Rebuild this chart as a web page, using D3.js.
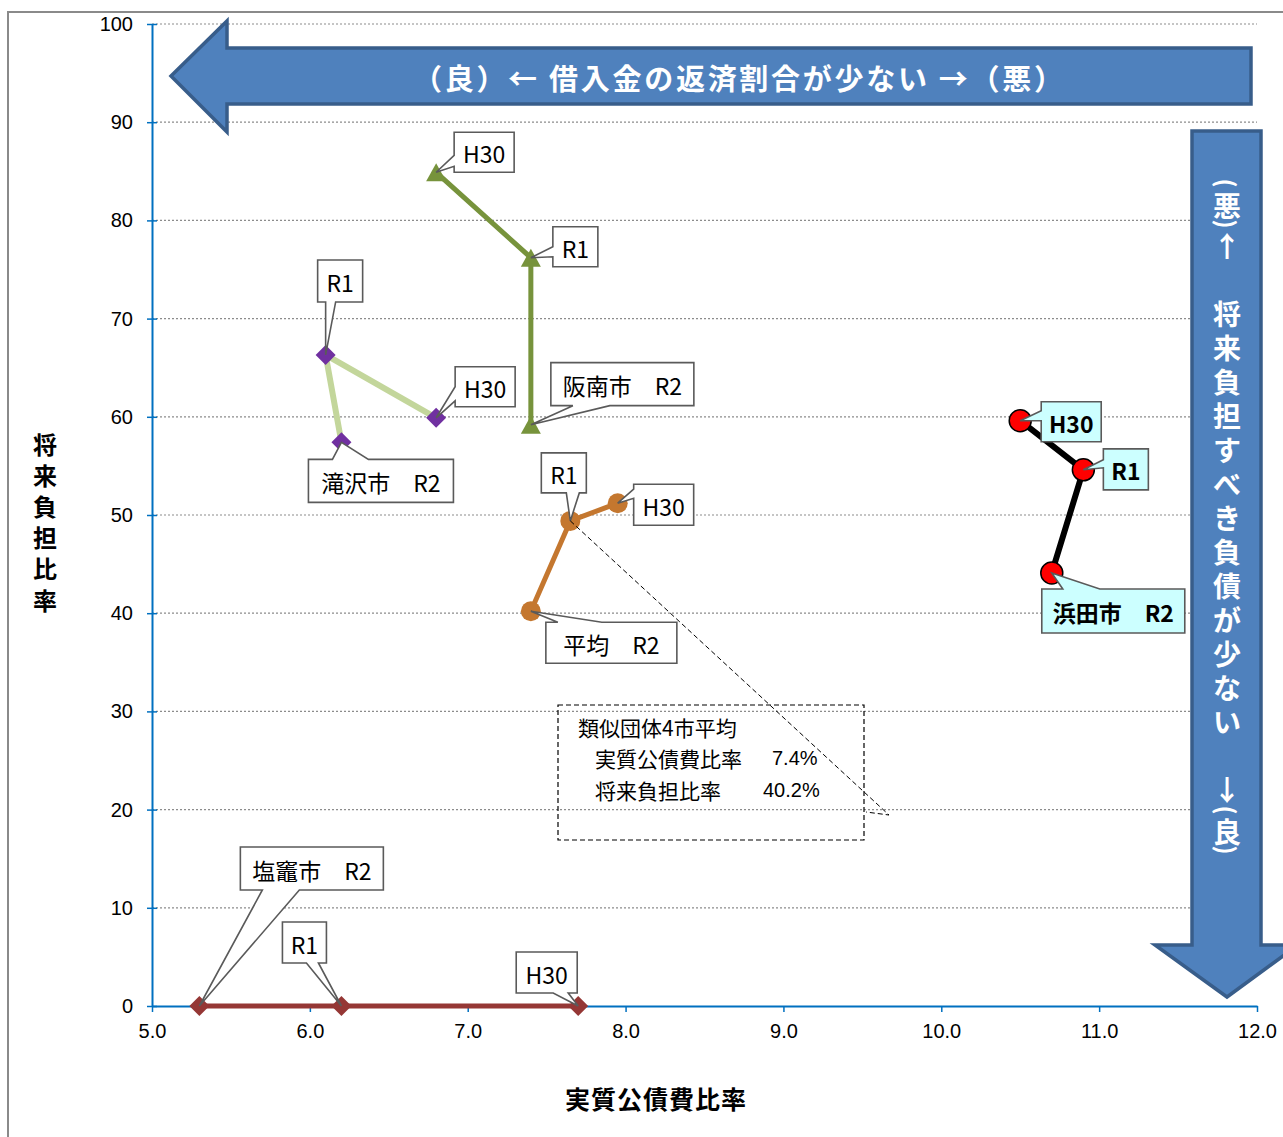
<!DOCTYPE html>
<html>
<head>
<meta charset="utf-8">
<script src="https://cdn.jsdelivr.net/npm/d3@7"></script>
<style>
  body { margin: 0; background: #fff; }
  svg { display: block; }
  text { white-space: pre; }
</style>
</head>
<body>
<script>
// ---- data -------------------------------------------------------------
const years = ["H30", "R1", "R2"];
const cities = ["浜田市", "阪南市", "滝沢市", "平均", "塩竈市"];

// 実質公債費比率 (x) / 将来負担比率 (y), ordered H30, R1, R2
const hamadaX   = [10.5, 10.9, 10.7];
const hamadaY   = [59.6, 54.6, 44.1];
const hannanX   = [6.8, 7.4, 7.4];
const hannanY   = [84.9, 76.2, 59.2];
const takizawaX = [6.8, 6.1, 6.2];
const takizawaY = [59.9, 66.3, 57.4];
const averageX  = [7.95, 7.65, 7.4];
const averageY  = [51.2, 49.4, 40.2];
const shiogamaX = [7.7, 6.2, 5.3];
const shiogamaY = [0, 0, 0];

const xTicks = [5, 6, 7, 8, 9, 10, 11, 12];
const yTicks = [0, 10, 20, 30, 40, 50, 60, 70, 80, 90, 100];

const avgSummary = ["類似団体4市平均", "実質公債費比率", "7.4%", "将来負担比率", "40.2%"];

// ---- styles -----------------------------------------------------------
const seriesStyle = [
  { line: "#000000", width: 6, marker: "circle",   fill: "#FF0000", stroke: "#000", r: 11, bold: true,  box: "#CCFFFF" },
  { line: "#77933C", width: 5, marker: "triangle", fill: "#77933C", stroke: "none", r: 10, bold: false, box: "#FFFFFF" },
  { line: "#C3D69B", width: 6, marker: "diamond",  fill: "#7030A0", stroke: "none", r: 10, bold: false, box: "#FFFFFF" },
  { line: "#C4772F", width: 5, marker: "circle",   fill: "#C4772F", stroke: "none", r: 10, bold: false, box: "#FFFFFF" },
  { line: "#953735", width: 5, marker: "diamond",  fill: "#953735", stroke: "none", r: 10, bold: false, box: "#FFFFFF" }
];

// label boxes, placed relative to their point: [series, year, dx, dy, w, h, side, a, b]
const labelLayout = [
  [1, 0,  18, -40,  60, 40, "left",   23, 34],
  [1, 1,  22, -31,  45, 40, "left",   20, 30],
  [1, 2,  20, -62, 143, 43, "bottom", 22, 59],
  [2, 1,  -8, -95,  45, 42, "bottom",  8, 18],
  [2, 0,  19, -51,  60, 40, "left",   20, 34],
  [2, 2, -33,  17, 145, 43, "top",    24, 60],
  [3, 1, -29, -68,  45, 40, "bottom", 25, 38],
  [3, 0,  16, -19,  60, 41, "left",    5, 14],
  [3, 2,  15,  11, 131, 41, "top",    12, 56],
  [0, 0,  21, -19,  60, 40, "left",    9, 19],
  [0, 1,  20, -21,  45, 41, "left",   11, 19],
  [0, 2, -10,  16, 143, 44, "top",    21, 58],
  [4, 2,  41, -159, 143, 43, "bottom", 22, 59],
  [4, 1, -59, -84,  44, 41, "bottom", 24, 36],
  [4, 0, -62, -54,  61, 41, "bottom", 37, 52]
];

const seriesX = [hamadaX, hannanX, takizawaX, averageX, shiogamaX];
const seriesY = [hamadaY, hannanY, takizawaY, averageY, shiogamaY];
const series = cities.map((c, i) => ({
  name: c,
  style: seriesStyle[i],
  pts: years.map((yr, j) => ({ year: yr, x: seriesX[i][j], y: seriesY[i][j] }))
}));

// ---- canvas -----------------------------------------------------------
const W = 1283, H = 1137;
const svg = d3.select("body").append("svg").attr("width", W).attr("height", H);
const jp = "'Noto Sans CJK JP', 'Noto Sans', sans-serif";

const x = d3.scaleLinear().domain([5, 12]).range([152, 1257]);
const y = d3.scaleLinear().domain([0, 100]).range([1006, 24]);

// outer frame
svg.append("path")
  .attr("d", `M8,${H} L8,12 L${W},12`)
  .attr("fill", "none").attr("stroke", "#8a8a8a").attr("stroke-width", 2);

// horizontal gridlines
svg.append("g").selectAll("line").data(yTicks.filter(t => t > 0)).join("line")
  .attr("x1", x(5)).attr("x2", x(12))
  .attr("y1", d => y(d)).attr("y2", d => y(d))
  .attr("stroke", "#8c8c8c").attr("stroke-width", 1.2).attr("stroke-dasharray", "2,2");

// axes
const axisColor = "#0070C0";
const gy = svg.append("g").attr("transform", `translate(${x(5)},0)`)
  .call(d3.axisLeft(y).tickValues(yTicks).tickFormat(d3.format("d")).tickSizeInner(5).tickSizeOuter(0).tickPadding(14));
gy.selectAll(".tick line").attr("x2", 5).attr("x1", -5);
const gx = svg.append("g").attr("transform", `translate(0,${y(0)})`)
  .call(d3.axisBottom(x).tickValues(xTicks).tickFormat(d3.format(".1f")).tickSizeInner(6).tickSizeOuter(0).tickPadding(12));
[gx, gy].forEach(g => {
  g.select(".domain").attr("stroke", axisColor).attr("stroke-width", 2);
  g.selectAll(".tick line").attr("stroke", axisColor).attr("stroke-width", 1.5);
  g.selectAll(".tick text").attr("fill", "#000").attr("font-size", 20)
    .attr("font-family", "'Liberation Sans', Arial, sans-serif");
});

// axis titles
svg.append("text").text("実質公債費比率")
  .attr("x", 656).attr("y", 1098).attr("text-anchor", "middle").attr("dominant-baseline", "central")
  .attr("font-family", jp).attr("font-weight", 700).attr("font-size", 25).attr("letter-spacing", 1);
const yTitle = "将来負担比率".split("");
svg.append("g").selectAll("text").data(yTitle).join("text")
  .text(d => d)
  .attr("x", 45).attr("y", (d, i) => 443 + i * 31.2)
  .attr("text-anchor", "middle").attr("dominant-baseline", "central")
  .attr("font-family", jp).attr("font-weight", 700).attr("font-size", 24);

// ---- block arrows -----------------------------------------------------
const arrowFill = "#4F81BD", arrowEdge = "#385D8A";
// pointing left along the top
svg.append("path")
  .attr("d", "M171,76 L227,21 L227,48 L1251,48 L1251,104 L227,104 L227,132 Z")
  .attr("fill", arrowFill).attr("stroke", arrowEdge).attr("stroke-width", 3.5).attr("stroke-linejoin", "miter");
svg.append("text").text("（良）← 借入金の返済割合が少ない →（悪）")
  .attr("x", 738).attr("y", 77).attr("text-anchor", "middle").attr("dominant-baseline", "central")
  .attr("textLength", 650).attr("lengthAdjust", "spacing")
  .attr("font-family", jp).attr("font-weight", 700).attr("font-size", 29).attr("fill", "#fff");

// pointing down along the right, with its text set vertically
svg.append("path")
  .attr("d", "M1192,131 L1261,131 L1261,945 L1298,945 L1227,997 L1155,945 L1192,945 Z")
  .attr("fill", arrowFill).attr("stroke", arrowEdge).attr("stroke-width", 3.5).attr("stroke-linejoin", "miter");
const vChars = [
  ["(", 183, true], ["悪", 205], [")", 224, true], ["↑", 245]
];
"将来負担すべき負債が少ない".split("").forEach((c, i) => vChars.push([c, 313 + i * 34]));
vChars.push(["↓", 789], ["(", 810, true], ["良", 831], [")", 850, true]);
const vx = 1227;
svg.append("g").selectAll("text").data(vChars).join("text")
  .text(d => d[0])
  .attr("x", vx).attr("y", d => d[1])
  .attr("transform", d => d[2] ? `rotate(90,${vx},${d[1]})` : null)
  .attr("text-anchor", "middle").attr("dominant-baseline", "central")
  .attr("font-family", jp).attr("font-weight", 700)
  .attr("font-size", d => d[2] ? 24 : 28).attr("fill", "#fff");

// ---- series -----------------------------------------------------------
const line = d3.line().x(d => x(d.x)).y(d => y(d.y));
const gS = svg.append("g");
series.forEach(s => {
  gS.append("path").datum(s.pts).attr("d", line)
    .attr("fill", "none").attr("stroke", s.style.line).attr("stroke-width", s.style.width)
    .attr("stroke-linejoin", "round");
});
function markerPath(type, r) {
  if (type === "diamond") return `M0,${-r} L${r},0 L0,${r} L${-r},0 Z`;
  if (type === "triangle") return `M0,${-r * 0.9} L${r},${r * 0.9} L${-r},${r * 0.9} Z`;
  return null;
}
series.forEach(s => {
  const st = s.style;
  const g = gS.append("g");
  if (st.marker === "circle") {
    g.selectAll("circle").data(s.pts).join("circle")
      .attr("cx", d => x(d.x)).attr("cy", d => y(d.y)).attr("r", st.r)
      .attr("fill", st.fill).attr("stroke", st.stroke).attr("stroke-width", 1.5);
  } else {
    g.selectAll("path").data(s.pts).join("path")
      .attr("d", markerPath(st.marker, st.r))
      .attr("transform", d => `translate(${x(d.x)},${y(d.y)})`)
      .attr("fill", st.fill);
  }
});

// ---- callout labels ---------------------------------------------------
function calloutPath(x0, y0, w, h, side, a, b, tx, ty) {
  const x1 = x0 + w, y1 = y0 + h;
  let p = `M${x0},${y0}`;
  if (side === "top") p += ` L${x0 + a},${y0} L${tx},${ty} L${x0 + b},${y0}`;
  p += ` L${x1},${y0}`;
  if (side === "right") p += ` L${x1},${y0 + a} L${tx},${ty} L${x1},${y0 + b}`;
  p += ` L${x1},${y1}`;
  if (side === "bottom") p += ` L${x0 + b},${y1} L${tx},${ty} L${x0 + a},${y1}`;
  p += ` L${x0},${y1}`;
  if (side === "left") p += ` L${x0},${y0 + b} L${tx},${ty} L${x0},${y0 + a}`;
  return p + " Z";
}
const gL = svg.append("g");
labelLayout.forEach(([si, yi, dx, dy, w, h, side, a, b]) => {
  const s = series[si], pt = s.pts[yi];
  const px = x(pt.x), py = y(pt.y);
  const bx = px + dx, by = py + dy;
  gL.append("path")
    .attr("d", calloutPath(bx, by, w, h, side, a, b, px, py))
    .attr("fill", s.style.box).attr("stroke", "#5a5a5a").attr("stroke-width", 1.6)
    .attr("stroke-linejoin", "miter");
  const txt = yi === 2 ? `${s.name}　${pt.year}` : pt.year;
  gL.append("text").text(txt)
    .attr("x", bx + w / 2).attr("y", by + h / 2 + 1)
    .attr("text-anchor", "middle").attr("dominant-baseline", "central")
    .attr("font-family", jp).attr("font-size", 23)
    .attr("font-weight", s.style.bold ? 700 : 400).attr("fill", "#000");
});

// ---- peer-group average note -------------------------------------------
const note = { x: 558, y: 705, w: 306, h: 135 };
const avgR1 = series[3].pts[1];
svg.append("path")
  .attr("d", `M${x(avgR1.x)},${y(avgR1.y)} L${note.x + note.w + 25},${note.y + 110} L${note.x + note.w + 2},${note.y + 107}`)
  .attr("fill", "none").attr("stroke", "#000").attr("stroke-width", 1).attr("stroke-dasharray", "5,3");
svg.append("rect")
  .attr("x", note.x).attr("y", note.y).attr("width", note.w).attr("height", note.h)
  .attr("fill", "none").attr("stroke", "#000").attr("stroke-width", 1.2).attr("stroke-dasharray", "5,3");
const gN = svg.append("g").attr("font-family", jp).attr("font-size", 21).attr("fill", "#000");
gN.append("text").text(avgSummary[0]).attr("x", 578).attr("y", 727).attr("dominant-baseline", "central");
gN.append("text").text(avgSummary[1]).attr("x", 595).attr("y", 758).attr("dominant-baseline", "central");
gN.append("text").text(avgSummary[2]).attr("x", 772).attr("y", 758).attr("dominant-baseline", "central")
  .attr("font-family", "'Liberation Sans', Arial, sans-serif").attr("font-size", 20);
gN.append("text").text(avgSummary[3]).attr("x", 595).attr("y", 790).attr("dominant-baseline", "central");
gN.append("text").text(avgSummary[4]).attr("x", 763).attr("y", 790).attr("dominant-baseline", "central")
  .attr("font-family", "'Liberation Sans', Arial, sans-serif").attr("font-size", 20);
</script>
</body>
</html>
